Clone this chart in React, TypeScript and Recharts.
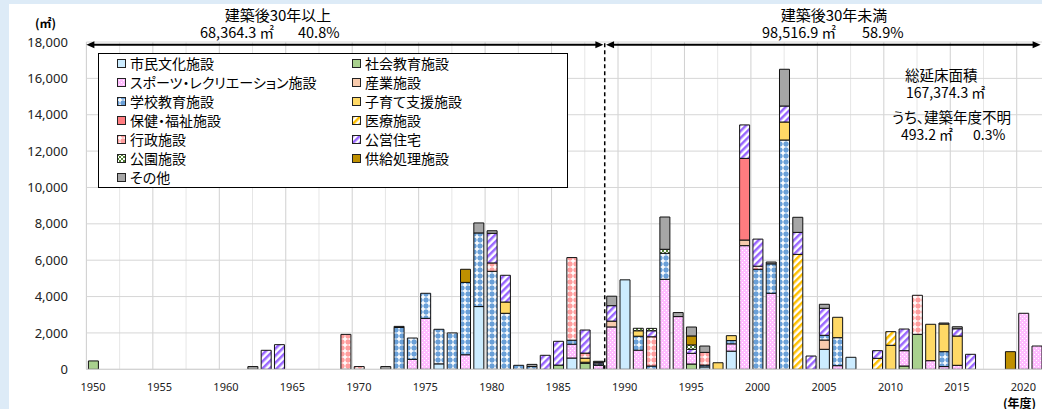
import React from 'react';
import { BarChart, Bar, XAxis, YAxis, CartesianGrid, ReferenceLine } from 'recharts';

type Pair = [number, number];

// Categories (fiscal years of construction)
const FIRST_YEAR = 1950;
const LAST_YEAR = 2021;
const YEARS: number[] = Array.from({ length: LAST_YEAR - FIRST_YEAR + 1 }, (_, i) => FIRST_YEAR + i);
const YEAR_TICKS = [1950, 1955, 1960, 1965, 1970, 1975, 1980, 1985, 1990, 1995, 2000, 2005, 2010, 2015, 2020];
const Y_TICKS = [0, 2000, 4000, 6000, 8000, 10000, 12000, 14000, 16000, 18000];
const MAJOR_GRID = [1949.5, 1954.5, 1959.5, 1964.5, 1969.5, 1974.5, 1979.5, 1984.5, 1989.5, 1994.5, 1999.5, 2004.5, 2009.5, 2014.5, 2019.5];
const MINOR_GRID = [1952, 1957, 1962, 1967, 1972, 1977, 1982, 1987, 1992, 1997, 2002, 2007, 2012, 2017];
const DOMAIN: [number, number] = [1949.5, 2021.5];
const SPLIT_YEAR = 1988.5;

// Series values (㎡), [year, area]
const SHIMIN: Pair[] = [[1976, 300], [1979, 3450], [1986, 620], [1990, 4920], [1996, 130], [1998, 1000], [2005, 1100], [2007, 660]];
const SHAKAI: Pair[] = [[1950, 460], [1985, 230], [1987, 330], [1995, 290], [2011, 180], [2012, 1925]];
const SPORTS: Pair[] = [[1974, 550], [1975, 2800], [1978, 800], [1986, 760], [1988, 220], [1989, 2330], [1991, 1050], [1993, 4950], [1994, 2900], [1995, 590], [1998, 400], [1999, 6800], [2001, 4180], [2006, 200], [2011, 845], [2013, 475], [2014, 150], [2015, 220], [2020, 3080], [2021, 1280]];
const SANGYO: Pair[] = [[1989, 320], [1999, 310], [2005, 510]];
const GAKKO: Pair[] = [[1973, 2300], [1974, 1170], [1975, 1380], [1976, 1900], [1977, 2000], [1978, 3980], [1979, 4050], [1980, 5390], [1981, 3080], [1982, 220], [1983, 150], [1986, 220], [1987, 60], [1988, 80], [1991, 770], [1992, 180], [1993, 1430], [1996, 100], [1998, 180], [2000, 5500], [2001, 1620], [2002, 12610], [2005, 260], [2006, 1540], [2014, 820]];
const KOSODATE: Pair[] = [[1981, 620], [1987, 220], [1991, 300], [1997, 360], [1998, 270], [2002, 990], [2006, 1120], [2010, 1320], [2013, 2000], [2014, 1520], [2015, 1610]];
const HOKEN: Pair[] = [[1999, 4490]];
const IRYO: Pair[] = [[2003, 6320], [2009, 605], [2010, 750]];
const GYOSEI: Pair[] = [[1969, 1920], [1970, 150], [1980, 460], [1986, 4545], [1987, 280], [1992, 1610], [1996, 700], [2000, 170], [2012, 2145]];
const KOEI: Pair[] = [[1963, 1045], [1964, 1355], [1980, 1630], [1981, 1470], [1984, 770], [1985, 1310], [1987, 1270], [1988, 80], [1989, 850], [1992, 330], [1995, 220], [1999, 1840], [2000, 1490], [2002, 880], [2003, 1210], [2004, 730], [2005, 1485], [2009, 420], [2011, 1190], [2015, 400], [2016, 825]];
const KOEN: Pair[] = [[1991, 135], [1992, 130], [1993, 220], [1995, 240]];
const KYOKYU: Pair[] = [[1978, 720], [1995, 495], [2019, 970]];
const SONOTA: Pair[] = [[1962, 150], [1972, 150], [1973, 60], [1979, 550], [1980, 140], [1983, 120], [1988, 60], [1989, 520], [1993, 1775], [1994, 220], [1995, 490], [1996, 350], [2001, 100], [2002, 2020], [2003, 830], [2005, 220], [2014, 55], [2015, 110]];

const SERIES = [
  { key: 'shimin', name: '市民文化施設', fill: '#CCECFF', values: SHIMIN },
  { key: 'shakai', name: '社会教育施設', fill: '#A9D18E', values: SHAKAI },
  { key: 'sports', name: 'スポーツ・レクリエーション施設', fill: 'url(#p-sports)', values: SPORTS },
  { key: 'sangyo', name: '産業施設', fill: '#F8CBAD', values: SANGYO },
  { key: 'gakko', name: '学校教育施設', fill: 'url(#p-gakko)', values: GAKKO },
  { key: 'kosodate', name: '子育て支援施設', fill: '#FFD966', values: KOSODATE },
  { key: 'hoken', name: '保健・福祉施設', fill: '#FF7C80', values: HOKEN },
  { key: 'iryo', name: '医療施設', fill: 'url(#p-iryo)', values: IRYO },
  { key: 'gyosei', name: '行政施設', fill: 'url(#p-gyosei)', values: GYOSEI },
  { key: 'koei', name: '公営住宅', fill: 'url(#p-koei)', values: KOEI },
  { key: 'koen', name: '公園施設', fill: 'url(#p-koen)', values: KOEN },
  { key: 'kyokyu', name: '供給処理施設', fill: '#BF9000', values: KYOKYU },
  { key: 'sonota', name: 'その他', fill: '#A6A6A6', values: SONOTA },
];

const DATA = YEARS.map((year) => {
  const row: Record<string, number> = { year };
  SERIES.forEach((s) => {
    const hit = s.values.find((p) => p[0] === year);
    row[s.key] = hit ? hit[1] : 0;
  });
  return row;
});

const JP = '"Noto Sans CJK JP", "Noto Sans", sans-serif';
const NUM = '"Noto Sans", "Liberation Sans", sans-serif';
const PALT: React.CSSProperties = { fontFeatureSettings: '"palt" 1' };

const Patterns = () => (
  <svg width={0} height={0} style={{ position: 'absolute' }}>
    <defs>
      <pattern id="p-sports" width={4} height={4} patternUnits="userSpaceOnUse">
        <rect width={4} height={4} fill="#FFBDFF" />
        <rect x={0} y={0} width={1} height={1} fill="#FFFFFF" />
        <rect x={2} y={2} width={1} height={1} fill="#FFFFFF" />
      </pattern>
      <pattern id="p-gakko" width={6} height={6} patternUnits="userSpaceOnUse">
        <rect width={6} height={6} fill="#6AA0D8" />
        <rect x={2.2} y={0.5} width={1.6} height={5} fill="#FFFFFF" />
        <rect x={0.5} y={2.2} width={5} height={1.6} fill="#FFFFFF" />
      </pattern>
      <pattern id="p-gyosei" width={6} height={6} patternUnits="userSpaceOnUse">
        <rect width={6} height={6} fill="#FF9E9E" />
        <rect x={2.2} y={0.5} width={1.6} height={5} fill="#FFFFFF" />
        <rect x={0.5} y={2.2} width={5} height={1.6} fill="#FFFFFF" />
      </pattern>
      <pattern id="p-iryo" width={5} height={5} patternUnits="userSpaceOnUse" patternTransform="rotate(45)">
        <rect width={5} height={5} fill="#FFFFFF" />
        <rect width={2.5} height={5} fill="#FFC000" />
      </pattern>
      <pattern id="p-koei" width={5} height={5} patternUnits="userSpaceOnUse" patternTransform="rotate(45)">
        <rect width={5} height={5} fill="#FFFFFF" />
        <rect width={2.5} height={5} fill="#9966FF" />
      </pattern>
      <pattern id="p-koen" width={4} height={4} patternUnits="userSpaceOnUse">
        <rect width={4} height={4} fill="#FFFFFF" />
        <rect x={0} y={0} width={2} height={2} fill="#548235" />
        <rect x={2} y={2} width={2} height={2} fill="#548235" />
      </pattern>
    </defs>
  </svg>
);

const ArrowShape = (props: any) => {
  const { x1, x2, y1 } = props;
  if (x1 == null || x2 == null) return null;
  const a = Math.min(x1, x2);
  const b = Math.max(x1, x2);
  const y = y1;
  return (
    <g>
      <line x1={a + 4} y1={y} x2={b - 4} y2={y} stroke="#000" strokeWidth={2} />
      <polygon points={`${a},${y} ${a + 8},${y - 3.5} ${a + 8},${y + 3.5}`} fill="#000" />
      <polygon points={`${b},${y} ${b - 8},${y - 3.5} ${b - 8},${y + 3.5}`} fill="#000" />
    </g>
  );
};

const Legend = () => (
  <div
    style={{
      position: 'absolute',
      left: 98,
      top: 53,
      width: 470,
      height: 135,
      boxSizing: 'border-box',
      border: '1px solid #000',
      background: '#fff',
    }}
  >
    {SERIES.map((s, i) => {
      const col = i % 2;
      const row = Math.floor(i / 2);
      const left = col === 0 ? 18 : 253;
      const top = row * 19 - 0.5;
      return (
        <div key={s.key} style={{ position: 'absolute', left, top, height: 19, display: 'flex', alignItems: 'center', whiteSpace: 'nowrap' }}>
          <svg width={9} height={9} style={{ marginRight: 4 }}>
            <rect x={0.5} y={0.5} width={8} height={8} fill={s.fill} stroke="#222" strokeWidth={1} />
          </svg>
          <span style={{ fontFamily: JP, fontSize: 14, color: '#000', lineHeight: '19px', ...PALT }}>{s.name}</span>
        </div>
      );
    })}
  </div>
);

const Notes = () => (
  <svg width={1042} height={409} style={{ position: 'absolute', left: 0, top: 0, pointerEvents: 'none', ...PALT }}>
    <g fontFamily={JP} fill="#000">
      <text x={35} y={27.5} fontSize={12} fontWeight={700}>(㎡)</text>
      <text x={1003} y={407.5} fontSize={12} fontWeight={700}>(年度)</text>
      <text x={278} y={20.5} fontSize={15} textAnchor="middle">建築後30年以上</text>
      <text x={200} y={38} fontSize={14.5}>68,364.3 ㎡</text>
      <text x={298} y={38} fontSize={14.5}>40.8%</text>
      <text x={834} y={20.5} fontSize={15} textAnchor="middle">建築後30年未満</text>
      <text x={762} y={38} fontSize={14.5}>98,516.9 ㎡</text>
      <text x={862} y={38} fontSize={14.5}>58.9%</text>
      <text x={905} y={80.5} fontSize={14.5}>総延床面積</text>
      <text x={906} y={98} fontSize={14}>167,374.3 ㎡</text>
      <text x={892} y={122.5} fontSize={14.5}>うち、建築年度不明</text>
      <text x={901} y={140} fontSize={14}>493.2 ㎡</text>
      <text x={973} y={140} fontSize={14}>0.3%</text>
    </g>
  </svg>
);

export default function App() {
  return (
    <div style={{ position: 'fixed', left: 0, top: 0, width: 1042, height: 409, overflow: 'hidden', background: '#DDEBF7' }}>
      <div style={{ position: 'absolute', left: 9, top: 4, right: 0, bottom: 0, background: '#FFFFFF' }} />
      <Patterns />
      <div style={{ position: 'absolute', left: 0, top: 0 }}>
        <BarChart width={1050} height={409} data={DATA} margin={{ top: 42, right: 6.7, bottom: 9.7, left: 0 }} barSize={10}>
          <XAxis xAxisId="minor" dataKey="year" type="number" domain={DOMAIN} ticks={MINOR_GRID} hide allowDataOverflow />
          <XAxis xAxisId="major" dataKey="year" type="number" domain={DOMAIN} ticks={MAJOR_GRID} hide allowDataOverflow />
          <CartesianGrid xAxisId="minor" horizontal={false} stroke="#E6E6E6" />
          <CartesianGrid xAxisId="major" horizontal={false} stroke="#D0D0D0" />
          <CartesianGrid vertical={false} stroke="#D6D6D6" />
          <XAxis
            dataKey="year"
            type="number"
            domain={DOMAIN}
            ticks={YEAR_TICKS}
            interval={0}
            allowDataOverflow
            height={30}
            tickLine={false}
            axisLine={{ stroke: '#D0D0D0' }}
            tickMargin={7.6}
            tick={{ fontSize: 11, fontFamily: NUM, fill: '#222' }}
          />
          <YAxis
            width={86.4}
            domain={[0, 18000]}
            ticks={Y_TICKS}
            interval={0}
            allowDataOverflow
            axisLine={false}
            tickLine={false}
            tickMargin={12.5}
            tickFormatter={(v: number) => v.toLocaleString('en-US')}
            tick={{ fontSize: 13, fontFamily: NUM, fill: '#222' }}
          />
          {SERIES.map((s) => (
            <Bar
              key={s.key}
              dataKey={s.key}
              name={s.name}
              stackId="a"
              fill={s.fill}
              stroke="#111"
              strokeWidth={1}
              isAnimationActive={false}
            />
          ))}
          <ReferenceLine x={SPLIT_YEAR} stroke="#000" strokeWidth={1.5} strokeDasharray="4 3" />
          <ReferenceLine segment={[{ x: 1949.5, y: 17850 }, { x: 1988.4, y: 17850 }]} shape={ArrowShape} />
          <ReferenceLine segment={[{ x: 1988.6, y: 17850 }, { x: 2021.3, y: 17850 }]} shape={ArrowShape} />
        </BarChart>
      </div>
      <Legend />
      <Notes />
    </div>
  );
}
